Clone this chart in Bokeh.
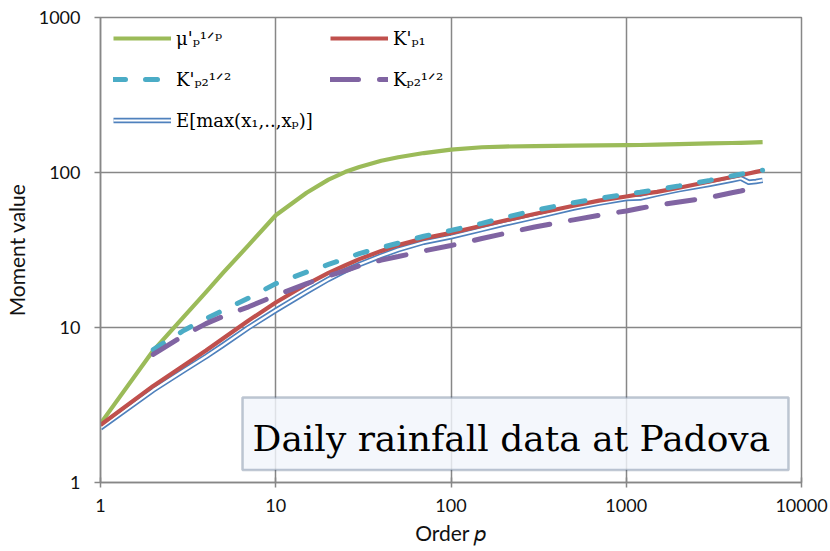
import math
from bokeh.plotting import figure
from bokeh.models import Legend, LegendItem, Label, BoxAnnotation, FixedTicker, LogTickFormatter, Range1d
from bokeh.embed import file_html
from bokeh.resources import INLINE

NAN = float("nan")

# Order p (shared x values)
p_order = [1, 2, 3, 4, 5, 7, 10, 15, 20, 25, 30, 40, 50, 70, 100, 150, 200, 300, 500, 700,
           1000, 1200, 1500, 2000, 3000, 4000, 4500, 5000, 5500, 6000]

# mu'_p^(1/p)
mu_p = [2.4, 7.1, 11.8, 16.9, 22.5, 34, 53, 74, 90, 101, 108.5, 119, 125.5, 133.5, 140.5, 145.5, 147,
        148, 149, 149.5, 150, 150.5, 151.5, 152.5, 154, 155, 155.5, 156, 156.5, 157]
# K'_p1
k_p1 = [2.35, 4.2, 5.7, 7.1, 8.5, 11.1, 14.5, 19.0, 22.5, 25.2, 27.6, 31.2, 34.0, 37.6, 40.8, 45.3, 48.8,
        54, 61, 65.8, 70, 72.5, 75, 79.8, 87.5, 93.5, 96, 98.5, 101, 103]
# K'_p2^(1/2)
k_p2_prime = [NAN, 7.2, 9.6, 11.4, 12.9, 15.5, 19.2, 22.8, 25.5, 27.8, 30, 32.8, 35, 38.8, 42.3, 47, 51,
              57, 63.8, 68, 72.5, 74.6, 77.5, 82, 89, 95, 97.5, 99.5, 101.5, 103.5]
# K_p2^(1/2)
k_p2 = [NAN, 6.7, 8.9, 10.6, 11.8, 13.6, 16.1, 19.2, 21.5, 23.3, 25, 27.2, 28.7, 31.2, 33.8, 37.5, 40.3,
        44.5, 49.5, 53, 56.5, 58.8, 61.5, 64.5, 69, 74, 76, 78, 79.5, 81]
# E[max(x1,...,xp)]
e_max = [2.25, 3.95, 5.3, 6.5, 7.7, 10.0, 12.9, 17.0, 20.5, 23.3, 25.5, 29.0, 31.8, 35.5, 38.5, 43.0, 46.5,
         51.5, 59, 63.5, 68, 68.5, 72.5, 77.5, 84, 89.5, 92, 86.5, 87.5, 89]

x_ticks = [1, 10, 100, 1000, 10000]
y_ticks = [1, 10, 100, 1000]

labels = {
    "mu": "μ'ₚ¹ᐟᵖ",
    "kp1": "K'ₚ₁",
    "kp2p": "K'ₚ₂¹ᐟ²",
    "kp2": "Kₚ₂¹ᐟ²",
    "emax": "E[max(x₁,..,xₚ)]",
}

GRID = "#878787"
GREEN = "#9BBB59"
RED = "#C0504D"
CYAN = "#4BACC6"
PURPLE = "#8064A2"
BLUE = "#4F81BD"

p = figure(width=830, height=551, x_axis_type="log", y_axis_type="log",
           x_range=Range1d(1, 10000), y_range=Range1d(1, 1000),
           output_backend="svg", toolbar_location=None,
           min_border_left=100, min_border_right=29, min_border_top=17, min_border_bottom=69)
p.background_fill_color = "white"
p.border_fill_color = "white"
p.outline_line_color = GRID
p.outline_line_width = 1.5

for ax, ticks in ((p.xaxis[0], x_ticks), (p.yaxis[0], y_ticks)):
    ax.ticker = FixedTicker(ticks=ticks, minor_ticks=[])
    ax.formatter = LogTickFormatter(min_exponent=10)
    ax.axis_line_color = GRID
    ax.axis_line_width = 1.5
    ax.major_tick_line_color = GRID
    ax.major_tick_line_width = 1.5
    ax.minor_tick_line_color = None
    ax.major_label_text_font = "Lato"
    ax.major_label_text_font_size = "18px"
    ax.major_label_text_color = "#111111"

p.xaxis.major_tick_out = 5
p.xaxis.major_tick_in = 5
p.xaxis.major_label_standoff = 11
p.xaxis.axis_label = "Order 𝑝"
p.xaxis.axis_label_standoff = 5
p.yaxis.major_tick_out = 6
p.yaxis.major_tick_in = 0
p.yaxis.major_label_standoff = 14
p.yaxis.axis_label = "Moment value"
p.yaxis.axis_label_standoff = 7
for axes in (p.xaxis, p.yaxis):
    axes.axis_label_text_font = "Lato"
    axes.axis_label_text_font_size = "21px"
    axes.axis_label_text_font_style = "normal"
    axes.axis_label_text_color = "#111111"

p.xgrid.ticker = FixedTicker(ticks=x_ticks, minor_ticks=[])
p.ygrid.ticker = FixedTicker(ticks=y_ticks, minor_ticks=[])
for g in (p.xgrid[0], p.ygrid[0]):
    g.grid_line_color = GRID
    g.grid_line_width = 1.5

b_out = p.line(p_order, e_max, line_color=BLUE, line_width=5.5, line_join="round")
b_in = p.line(p_order, e_max, line_color="white", line_width=2.2, line_join="round")
g_r = p.line(p_order, mu_p, line_color=GREEN, line_width=4.2, line_join="round")
r_r = p.line(p_order, k_p1, line_color=RED, line_width=4.2, line_join="round")
c_r = p.line(p_order, k_p2_prime, line_color=CYAN, line_width=5, line_dash="12 20", line_cap="round")
pu_r = p.line(p_order, k_p2, line_color=PURPLE, line_width=5, line_dash="28 21", line_cap="round")

common = dict(orientation="vertical", padding=0, margin=0, spacing=17, glyph_width=58,
              glyph_height=24, label_height=24, label_standoff=5, border_line_color=None,
              background_fill_alpha=0, label_text_font="DejaVu Serif",
              label_text_font_size="18px", label_text_color="black")
leg1 = Legend(items=[LegendItem(label=labels["mu"], renderers=[g_r]),
                     LegendItem(label=labels["kp2p"], renderers=[c_r]),
                     LegendItem(label=labels["emax"], renderers=[b_out, b_in])],
              location=(13, 350), **common)
leg2 = Legend(items=[LegendItem(label=labels["kp1"], renderers=[r_r]),
                     LegendItem(label=labels["kp2"], renderers=[pu_r])],
              location=(230, 391), **common)
p.add_layout(leg1)
p.add_layout(leg2)

box = BoxAnnotation(left=6.46, right=8430, bottom=1.204, top=3.54,
                    fill_color="#F2F5FB", fill_alpha=0.82,
                    line_color="#2E4A6E", line_width=2.5)
p.add_layout(box)
p.add_layout(Label(x=7.37, y=1.93, text="Daily rainfall data at Padova",
                   text_font="DejaVu Serif", text_font_size="36px",
                   text_baseline="alphabetic", text_color="black"))

open("out.html", "w").write(file_html(p, INLINE))
